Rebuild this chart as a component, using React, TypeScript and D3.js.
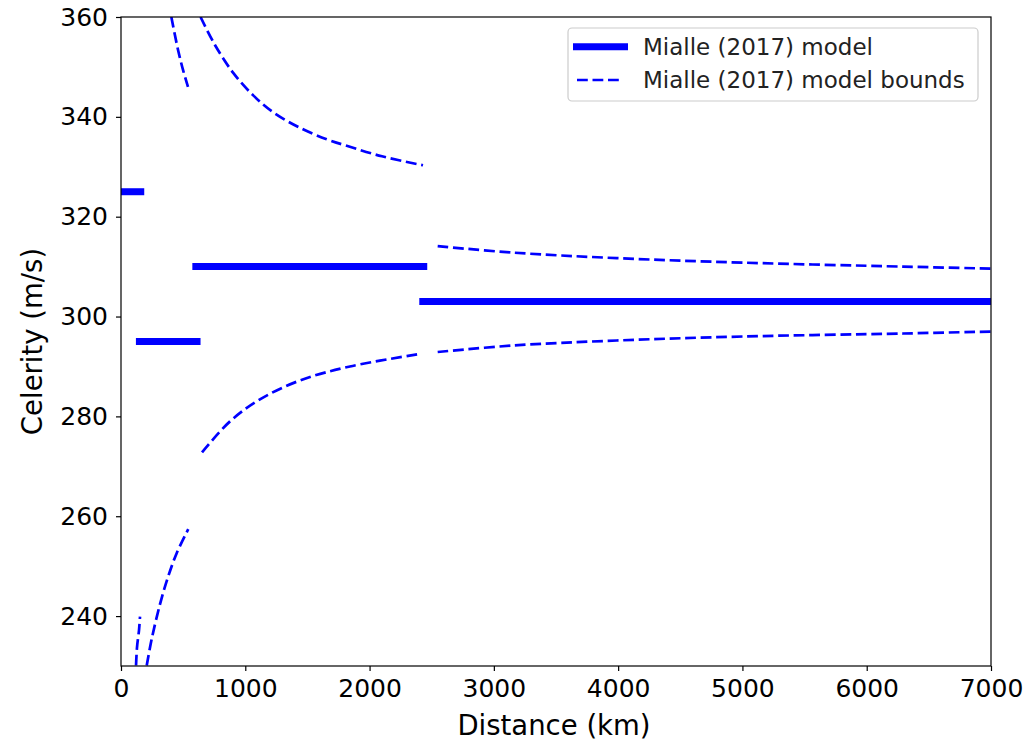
import React, { useEffect, useRef } from 'react';
import * as d3 from 'd3';

// Mialle (2017) model: constant celerity per distance range
const modelCelerity = [325, 295, 310, 303];
const modelFrom = [0, 120, 574, 2400];
const modelTo = [187, 640, 2464, 7000];

// bounds as [distance km, celerity m/s]
const upperA = [[405, 360], [459, 353.4], [499, 349.4], [539, 346.0]];
const upperB = [[640, 360], [756, 354.4], [903, 348.8], [1064, 344.3], [1225, 340.9], [1440, 337.8], [1655, 335.5], [1816, 334.2], [2100, 332.1], [2430, 330.3]];
const upperC = [[2548, 314.1], [3156, 312.8], [3988, 311.7], [5000, 310.8], [6292, 310.0], [7000, 309.6]];
const lowerA = [[121, 230.1], [129, 233.8], [145, 237.2], [153, 239.9]];
const lowerB = [[207, 230.1], [247, 235.4], [314, 242.4], [378, 247.8], [448, 252.6], [541, 257.4]];
const lowerC = [[652, 272.8], [877, 279.0], [1118, 283.4], [1440, 287.2], [1842, 290.0], [2406, 292.5]];
const lowerD = [[2548, 292.9], [3156, 294.2], [3988, 295.2], [5000, 296.0], [6292, 296.6], [7000, 297.0]];

const xTicks = [0, 1000, 2000, 3000, 4000, 5000, 6000, 7000];
const yTicks = [240, 260, 280, 300, 320, 340, 360];

const App = () => {
  const svgRef = useRef(null);

  useEffect(() => {
    const width = 1027;
    const height = 741;
    const margin = { top: 17, right: 36, bottom: 75, left: 121 };
    const font = 'DejaVu Sans, sans-serif';

    d3.select(svgRef.current).selectAll('*').remove();
    const svg = d3.select(svgRef.current).attr('width', width).attr('height', height);

    const x = d3.scaleLinear().domain([0, 7000]).range([margin.left, width - margin.right]);
    const y = d3.scaleLinear().domain([230, 360]).range([height - margin.bottom, margin.top]);

    svg.append('clipPath').attr('id', 'plot-clip')
      .append('rect')
      .attr('x', margin.left).attr('y', margin.top)
      .attr('width', width - margin.left - margin.right)
      .attr('height', height - margin.top - margin.bottom);

    const plot = svg.append('g').attr('clip-path', 'url(#plot-clip)');

    // dashed bounds
    const line = d3.line().x(d => x(d[0])).y(d => y(d[1])).curve(d3.curveCatmullRom.alpha(0.5));
    [upperA, upperB, upperC, lowerA, lowerB, lowerC, lowerD].forEach(pts => {
      plot.append('path')
        .attr('d', line(pts))
        .attr('fill', 'none')
        .attr('stroke', 'blue')
        .attr('stroke-width', 2.7)
        .attr('stroke-dasharray', '10.8,4.7');
    });

    // model segments
    modelCelerity.forEach((c, i) => {
      plot.append('line')
        .attr('x1', x(modelFrom[i])).attr('x2', x(modelTo[i]))
        .attr('y1', y(c)).attr('y2', y(c))
        .attr('stroke', 'blue')
        .attr('stroke-width', 7);
    });

    // axes
    const xAxis = svg.append('g')
      .attr('transform', `translate(0,${height - margin.bottom})`)
      .call(d3.axisBottom(x).tickValues(xTicks).tickSize(5).tickPadding(8).tickFormat(d3.format('d')));
    const yAxis = svg.append('g')
      .attr('transform', `translate(${margin.left},0)`)
      .call(d3.axisLeft(y).tickValues(yTicks).tickSize(5).tickPadding(8).tickFormat(d3.format('d')));
    [xAxis, yAxis].forEach(a => {
      a.select('.domain').remove();
      a.selectAll('line').attr('stroke', '#000').attr('stroke-width', 1.2);
      a.selectAll('text').attr('font-family', font).attr('font-size', 25).attr('fill', '#000');
    });

    // frame
    svg.append('rect')
      .attr('x', margin.left).attr('y', margin.top)
      .attr('width', width - margin.left - margin.right)
      .attr('height', height - margin.top - margin.bottom)
      .attr('fill', 'none').attr('stroke', '#000').attr('stroke-width', 1.2);

    svg.append('text')
      .attr('x', 554).attr('y', 735)
      .attr('text-anchor', 'middle')
      .attr('font-family', font).attr('font-size', 27.5)
      .text('Distance (km)');

    svg.append('text')
      .attr('transform', `translate(42,${(margin.top + height - margin.bottom) / 2}) rotate(-90)`)
      .attr('text-anchor', 'middle')
      .attr('font-family', font).attr('font-size', 27.5)
      .text('Celerity (m/s)');

    // legend
    const lg = svg.append('g');
    lg.append('rect')
      .attr('x', 568).attr('y', 28).attr('width', 410).attr('height', 73)
      .attr('rx', 4).attr('fill', 'white').attr('fill-opacity', 0.8)
      .attr('stroke', '#ccc').attr('stroke-width', 1.2);
    lg.append('line').attr('x1', 573).attr('x2', 628).attr('y1', 46.7).attr('y2', 46.7)
      .attr('stroke', 'blue').attr('stroke-width', 7);
    lg.append('line').attr('x1', 577).attr('x2', 622).attr('y1', 80).attr('y2', 80)
      .attr('stroke', 'blue').attr('stroke-width', 2.7).attr('stroke-dasharray', '10.8,4.7');
    ['Mialle (2017) model', 'Mialle (2017) model bounds'].forEach((t, i) => {
      lg.append('text')
        .attr('x', 643).attr('y', 47 + i * 33).attr('dy', '0.35em')
        .attr('font-family', font).attr('font-size', 23).attr('fill', '#222')
        .text(t);
    });
  }, []);

  return (
    <svg ref={svgRef} style={{ position: 'absolute', left: 0, top: 0 }}></svg>
  );
};

export default App;
